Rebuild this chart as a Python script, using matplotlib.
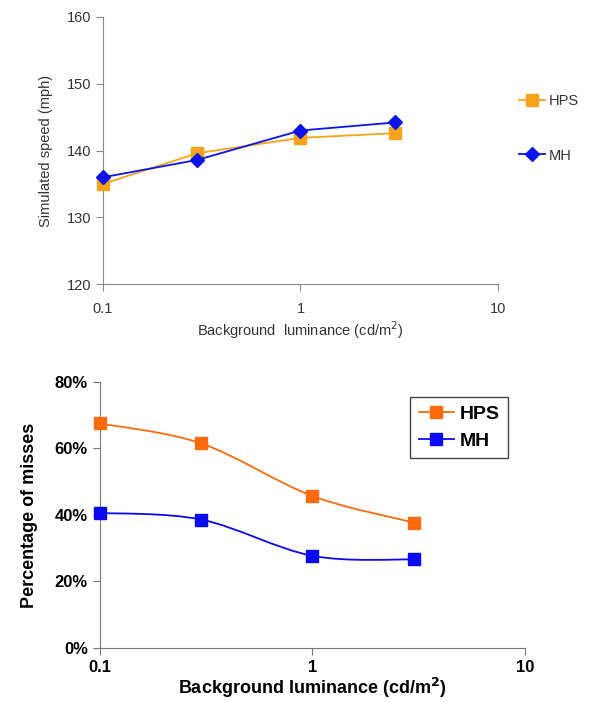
import matplotlib.pyplot as plt
import numpy as np
from matplotlib.path import Path
from matplotlib.patches import PathPatch
from matplotlib.ticker import FixedLocator, NullLocator, FuncFormatter

plt.rcParams['font.family'] = ['Liberation Sans', 'DejaVu Sans']

# data
lum = [0.1, 0.3, 1, 3]
speed_hps = [135.0, 139.6, 141.9, 142.6]
speed_mh = [136.0, 138.6, 143.0, 144.2]
miss_hps = [67.5, 61.5, 45.7, 37.7]
miss_mh = [40.6, 38.6, 27.7, 26.6]
xticks = [0.1, 1, 10]
xtick_labels = ["0.1", "1", "10"]

fig = plt.figure(figsize=(6.12, 7.02), dpi=100)

# ---- top chart ----
ax1 = fig.add_axes([0.168, 0.595, 0.646, 0.381])
ax1.plot(lum, speed_hps, color="#F7A21B", lw=1.3, marker="s", ms=8, label="HPS",
         clip_on=False, zorder=3)
ax1.plot(lum, speed_mh, color="#0A14E6", lw=1.3, marker="D", ms=7, label="MH",
         clip_on=False, zorder=4)
ax1.set_xscale("log")
ax1.set_xlim(0.1, 10)
ax1.set_ylim(120, 160)
ax1.xaxis.set_major_locator(FixedLocator(xticks))
ax1.xaxis.set_minor_locator(NullLocator())
ax1.set_xticklabels(xtick_labels)
ax1.set_yticks([120, 130, 140, 150, 160])
for s in ["top", "right"]:
    ax1.spines[s].set_visible(False)
for s in ["left", "bottom"]:
    ax1.spines[s].set_color("#888888")
ax1.tick_params(colors="#888888", labelcolor="#333333", labelsize=10.5, length=5,
                direction="out")
ax1.tick_params(axis="x", pad=8)
ax1.set_ylabel("Simulated speed (mph)", fontsize=10.5, color="#333333", labelpad=10)
ax1.set_xlabel("Background  luminance (cd/m$^2$)", fontsize=10.5, color="#333333",
               labelpad=2)
ax1.legend(loc="center left", bbox_to_anchor=(1.02, 0.584), frameon=False,
           fontsize=10.5, labelspacing=2.8, handlelength=1.8, handletextpad=0.2,
           labelcolor="#333333")


# ---- bottom chart (smoothed lines) ----
def smooth_path(xs, ys):
    # Catmull-Rom style bezier in log-x space
    lx = np.log10(xs)
    ys = np.asarray(ys, float)
    n = len(lx)
    verts = [(xs[0], ys[0])]
    codes = [Path.MOVETO]
    for i in range(n - 1):
        p0 = (lx[max(i - 1, 0)], ys[max(i - 1, 0)])
        p1 = (lx[i], ys[i])
        p2 = (lx[i + 1], ys[i + 1])
        p3 = (lx[min(i + 2, n - 1)], ys[min(i + 2, n - 1)])
        c1 = (p1[0] + (p2[0] - p0[0]) / 6, p1[1] + (p2[1] - p0[1]) / 6)
        c2 = (p2[0] - (p3[0] - p1[0]) / 6, p2[1] - (p3[1] - p1[1]) / 6)
        for c in (c1, c2, p2):
            verts.append((10 ** c[0], c[1]))
            codes.append(Path.CURVE4)
    return Path(verts, codes)


ax2 = fig.add_axes([0.163, 0.077, 0.695, 0.379])
ax2.set_xscale("log")
ax2.set_xlim(0.1, 10)
ax2.set_ylim(0, 80)
for ys, col, name in [(miss_hps, "#FF6A0D", "HPS"), (miss_mh, "#0A0AF0", "MH")]:
    ax2.add_patch(PathPatch(smooth_path(lum, ys), fill=False, edgecolor=col, lw=1.3))
    ax2.plot(lum, ys, ls="none", marker="s", ms=9, color=col, clip_on=False, zorder=3)
    ax2.plot([], [], color=col, lw=1.3, marker="s", ms=9, label=name)
ax2.xaxis.set_major_locator(FixedLocator(xticks))
ax2.xaxis.set_minor_locator(NullLocator())
ax2.set_xticklabels(xtick_labels)
ax2.set_yticks([0, 20, 40, 60, 80])
ax2.yaxis.set_major_formatter(FuncFormatter(lambda v, p: "%d%%" % v))
for s in ["top", "right"]:
    ax2.spines[s].set_visible(False)
for s in ["left", "bottom"]:
    ax2.spines[s].set_color("#777777")
ax2.tick_params(colors="#777777", labelcolor="black", labelsize=12, length=5,
                direction="out")
ax2.tick_params(axis="x", pad=4)
for lab in ax2.get_xticklabels() + ax2.get_yticklabels():
    lab.set_fontweight("bold")
ax2.set_ylabel("Percentage of misses", fontsize=13, fontweight="bold", labelpad=12)
ax2.set_xlabel("Background luminance (cd/m$^{\\mathbf{2}}$)", fontsize=13,
               fontweight="bold", labelpad=0)
leg = ax2.legend(loc="upper left", bbox_to_anchor=(0.729, 0.944),
                 prop={"weight": "bold", "size": 14}, fancybox=False,
                 edgecolor="#444444", framealpha=1, borderpad=0.45,
                 labelspacing=0.45, handlelength=1.8, handletextpad=0.3,
                 borderaxespad=0)

fig.savefig("out.png", dpi=100)
